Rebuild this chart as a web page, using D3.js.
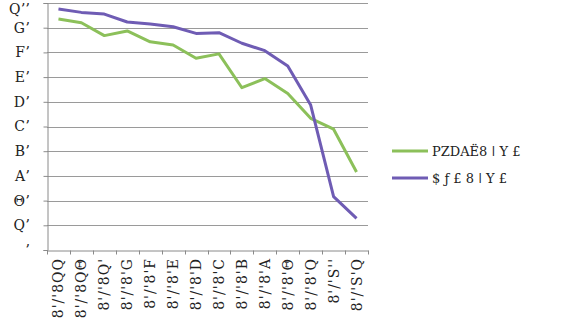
<!DOCTYPE html>
<html>
<head>
<meta charset="utf-8">
<script src="https://cdn.jsdelivr.net/npm/d3@7"></script>
<style>
  body { margin: 0; background: #fff; }
  svg text { font-family: "DejaVu Serif", "Liberation Serif", serif; fill: #222; }
</style>
</head>
<body>
<div id="chart"></div>
<script>
// categories (garbled as in the source picture)
var categories = ["8'/'8QQ", "8'/'8QΘ", "8'/'8Q'", "8'/'8'G", "8'/'8'F", "8'/'8'E", "8'/'8'D",
                  "8'/'8'C", "8'/'8'B", "8'/'8'A", "8'/'8'Θ", "8'/'8'Q", "8'/'S''", "8'/'S'Q"];

var greenValues  = [93.5, 92.0, 86.8, 88.7, 84.3, 83.0, 77.6, 79.4, 65.7, 69.4, 63.4, 53.3, 48.9, 31.6];
var purpleValues = [97.6, 96.2, 95.5, 92.3, 91.5, 90.4, 87.7, 88.0, 83.7, 80.7, 74.5, 58.7, 21.6, 12.8];

var seriesNames = ["PZDAЁ8 ǀ Y £", "$ ƒ   £ 8 ǀ Y £"];
var tickValues  = [0, 10, 20, 30, 40, 50, 60, 70, 80, 90, 100];
var tickLabels  = ["ʼ", "Qʼ", "Θʼ", "Aʼ", "Bʼ", "Cʼ", "Dʼ", "Eʼ", "Fʼ", "Gʼ", "Qʼʼ"];

var width = 562, height = 329;
var margin = {top: 3, left: 47, plotW: 321, plotH: 247};
var colors = ["#8cc05a", "#6f5cb4"];

var svg = d3.select("#chart").append("svg")
  .attr("width", width)
  .attr("height", height);

var x = d3.scaleBand()
  .domain(categories)
  .range([margin.left, margin.left + margin.plotW]);

var y = d3.scaleLinear()
  .domain([0, 100])
  .range([margin.top + margin.plotH, margin.top]);

// gridlines
svg.append("g")
  .selectAll("line")
  .data(tickValues.slice(1))
  .enter().append("line")
  .attr("x1", margin.left)
  .attr("x2", margin.left + margin.plotW)
  .attr("y1", function(d) { return Math.round(y(d)) + 0.5; })
  .attr("y2", function(d) { return Math.round(y(d)) + 0.5; })
  .attr("stroke", "#9a9a9a")
  .attr("stroke-width", 1.2);

// y axis
var yAxis = d3.axisLeft(y)
  .tickValues(tickValues)
  .tickSize(4)
  .tickPadding(14)
  .tickFormat(function(d, i) { return tickLabels[i]; });

var gy = svg.append("g")
  .attr("transform", "translate(" + (margin.left + 0.5) + ",0)")
  .call(yAxis);
gy.select(".domain").attr("stroke", "#8a8a8a");
gy.selectAll(".tick line").attr("stroke", "#8a8a8a");
gy.selectAll("text")
  .style("font-size", "14px")
  .attr("text-anchor", "end");
// top label would run off the page edge; nudge it down a little
gy.selectAll(".tick text")
  .filter(function(d) { return d === 100; })
  .attr("dy", "0.75em");

// x axis
var xAxis = d3.axisBottom(x).tickSize(0).tickFormat("");
var gx = svg.append("g")
  .attr("transform", "translate(0," + (y(0) + 0.5) + ")")
  .call(xAxis);
gx.select(".domain").attr("stroke", "#8a8a8a");

// tick marks at band edges
gx.selectAll(".edge")
  .data(categories.concat(["_end"]))
  .enter().append("line")
  .attr("class", "edge")
  .attr("x1", function(d, i) { return Math.round(margin.left + i * x.bandwidth()) + 0.5; })
  .attr("x2", function(d, i) { return Math.round(margin.left + i * x.bandwidth()) + 0.5; })
  .attr("y1", 0)
  .attr("y2", 4)
  .attr("stroke", "#8a8a8a");

// x labels, rotated
svg.append("g")
  .selectAll("text")
  .data(categories)
  .enter().append("text")
  .attr("transform", function(d) {
    return "translate(" + (x(d) + x.bandwidth() / 2 + 5) + "," + (y(0) + 8) + ") rotate(-90)";
  })
  .attr("text-anchor", "end")
  .style("font-size", "14px")
  .style("letter-spacing", "1px")
  .text(function(d) { return d; });

// lines
var line = d3.line()
  .x(function(d, i) { return x(categories[i]) + x.bandwidth() / 2; })
  .y(function(d) { return y(d); });

[greenValues, purpleValues].forEach(function(vals, k) {
  svg.append("path")
    .datum(vals)
    .attr("fill", "none")
    .attr("stroke", colors[k])
    .attr("stroke-width", 3)
    .attr("stroke-linejoin", "round")
    .attr("d", line);
});

// legend
var legend = svg.append("g").attr("transform", "translate(392,151)");
seriesNames.forEach(function(name, k) {
  var row = legend.append("g").attr("transform", "translate(0," + (k * 27) + ")");
  row.append("line")
    .attr("x1", 0).attr("x2", 36)
    .attr("stroke", colors[k])
    .attr("stroke-width", 3);
  row.append("text")
    .attr("x", 40)
    .attr("dy", "0.35em")
    .style("font-size", "13px")
    .text(name);
});
</script>
</body>
</html>
